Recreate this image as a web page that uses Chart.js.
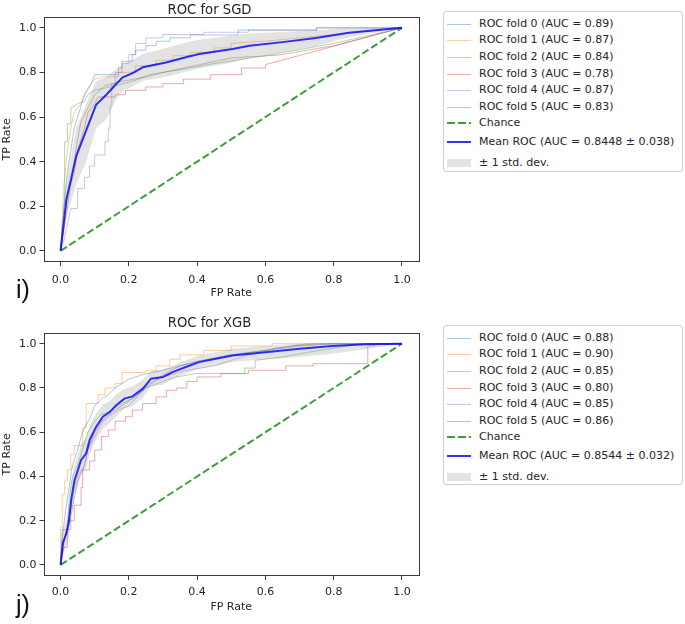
<!DOCTYPE html>
<html>
<head>
<meta charset="utf-8">
<script src="https://cdn.jsdelivr.net/npm/chart.js@4.4.1/dist/chart.umd.min.js"></script>
<style>
  html, body { margin: 0; padding: 0; background: #fff; }
  body { width: 685px; height: 624px; position: relative; overflow: hidden; font-family: 'DejaVu Sans', sans-serif; }
  .panel { position: absolute; left: 0; }
  .legend { position: absolute; left: 443px; width: 238px; border: 1px solid #cfcfcf; border-radius: 3px; background: #fff; font-size: 11px; color: #262626; }
  .legend .row { position: absolute; left: 0; height: 14px; line-height: 14px; white-space: nowrap; }
  .legend .swatch { position: absolute; left: 3px; width: 24px; }
  .legend .txt { position: absolute; left: 35px; top: 0; }
  .tag { position: absolute; left: 16px; font-family: 'Liberation Sans', sans-serif; font-size: 25px; line-height: 25px; color: #111; }
</style>
</head>
<body>
<div class="panel" style="top:0"><canvas id="sgdChart" width="430" height="300"></canvas></div>
<div class="panel" style="top:310px"><canvas id="xgbChart" width="430" height="314"></canvas></div>
<div class="legend" id="sgdLegend" style="top:11px;height:159px"></div>
<div class="legend" id="xgbLegend" style="top:325px;height:158px"></div>
<div class="tag" style="top:277px">i)</div>
<div class="tag" style="top:592px">j)</div>
<script>
// axis ticks
const xTicks = [0.0, 0.2, 0.4, 0.6, 0.8, 1.0];
const yTicks = [0.0, 0.2, 0.4, 0.6, 0.8, 1.0];

const foldColors = [
  'rgba(31,119,180,0.4)', 'rgba(255,127,14,0.4)', 'rgba(44,160,44,0.4)',
  'rgba(214,39,40,0.4)', 'rgba(148,103,189,0.4)', 'rgba(140,86,75,0.4)',
];
const chanceColor = '#3c9e3c';
const meanColor = 'rgba(0,0,255,0.8)';
const bandColor = 'rgba(128,128,128,0.22)';

const chanceFpr = [0, 1];
const chanceTpr = [0, 1];

// ---- SGD ----
const sgdFoldAuc = [0.89, 0.87, 0.84, 0.78, 0.87, 0.83];
const sgdMeanLabel = 'Mean ROC (AUC = 0.8448 \u00b1 0.038)';

const sgdFold0 = [[0,0],[0.01,0.2],[0.02,0.35],[0.03,0.45],[0.04,0.55],[0.05,0.6],[0.06,0.65],[0.07,0.7],[0.09,0.75],[0.1,0.79],[0.17,0.79],[0.17,0.82],[0.18,0.82],[0.18,0.85],[0.21,0.85],[0.21,0.88],[0.22,0.88],[0.22,0.9],[0.25,0.9],[0.25,0.92],[0.28,0.92],[0.28,0.94],[0.32,0.94],[0.32,0.955],[0.38,0.955],[0.38,0.968],[0.52,0.968],[0.52,0.99],[0.75,0.99],[0.75,1],[1,1]];
const sgdFold1 = [[0,0],[0.01,0.3],[0.02,0.45],[0.03,0.55],[0.04,0.62],[0.06,0.66],[0.07,0.7],[0.085,0.74],[0.1,0.77],[0.12,0.78],[0.17,0.78],[0.17,0.8],[0.22,0.8],[0.22,0.83],[0.28,0.83],[0.28,0.855],[0.33,0.855],[0.33,0.875],[0.38,0.875],[0.38,0.89],[0.45,0.89],[0.45,0.91],[0.5,0.91],[0.5,0.93],[0.6,0.94],[1,1]];
const sgdFold2 = [[0,0],[0.005,0.1],[0.012,0.23],[0.012,0.49],[0.02,0.49],[0.02,0.57],[0.03,0.57],[0.03,0.64],[0.05,0.66],[0.07,0.67],[0.08,0.7],[0.1,0.72],[0.16,0.74],[0.22,0.765],[0.26,0.79],[0.36,0.815],[0.45,0.84],[0.6,0.875],[0.8,0.93],[1,1]];
const sgdFold3 = [[0,0],[0.01,0.1],[0.02,0.25],[0.04,0.35],[0.05,0.45],[0.07,0.55],[0.08,0.62],[0.1,0.66],[0.11,0.69],[0.16,0.69],[0.16,0.7],[0.19,0.7],[0.19,0.72],[0.25,0.72],[0.25,0.735],[0.3,0.735],[0.3,0.75],[0.36,0.75],[0.36,0.77],[0.44,0.77],[0.44,0.79],[0.53,0.79],[0.53,0.82],[0.6,0.82],[0.6,0.835],[1,1]];
const sgdFold4 = [[0,0],[0.01,0.05],[0.02,0.12],[0.03,0.19],[0.05,0.19],[0.05,0.28],[0.07,0.28],[0.07,0.33],[0.085,0.33],[0.085,0.38],[0.1,0.38],[0.1,0.43],[0.13,0.43],[0.13,0.49],[0.14,0.49],[0.14,0.55],[0.145,0.55],[0.145,0.65],[0.15,0.65],[0.15,0.75],[0.16,0.75],[0.16,0.8],[0.18,0.8],[0.18,0.84],[0.2,0.84],[0.2,0.88],[0.22,0.88],[0.22,0.93],[0.25,0.93],[0.25,0.955],[0.3,0.955],[0.3,0.97],[0.42,0.97],[0.42,0.98],[0.55,0.98],[0.55,0.99],[0.75,0.99],[0.75,1],[1,1]];
const sgdFold5 = [[0,0],[0.01,0.1],[0.02,0.2],[0.03,0.3],[0.04,0.4],[0.05,0.5],[0.06,0.58],[0.08,0.64],[0.1,0.7],[0.13,0.74],[0.18,0.76],[0.25,0.78],[0.3,0.8],[0.38,0.826],[0.5,0.865],[0.64,0.878],[0.8,0.92],[1,1]];

const sgdMeanFpr = [0, 0.017, 0.046, 0.075, 0.104, 0.134, 0.163, 0.182, 0.211, 0.241, 0.309, 0.367, 0.406, 0.504, 0.553, 0.65, 0.748, 0.845, 1];
const sgdMeanTpr = [0, 0.23, 0.425, 0.54, 0.655, 0.70, 0.748, 0.778, 0.797, 0.823, 0.845, 0.868, 0.883, 0.905, 0.92, 0.936, 0.954, 0.978, 1];
const sgdUpper   = [0, 0.31, 0.55, 0.66, 0.76, 0.78, 0.815, 0.838, 0.857, 0.883, 0.91, 0.933, 0.948, 0.965, 0.975, 0.981, 0.989, 0.998, 1];
const sgdLower   = [0, 0.15, 0.30, 0.40, 0.55, 0.59, 0.68, 0.718, 0.737, 0.763, 0.78, 0.803, 0.818, 0.845, 0.865, 0.891, 0.919, 0.958, 1];

// ---- XGB ----
const xgbFoldAuc = [0.88, 0.90, 0.85, 0.80, 0.85, 0.86];
const xgbMeanLabel = 'Mean ROC (AUC = 0.8544 \u00b1 0.032)';

const xgbFold0 = [[0,0],[0.005,0.12],[0.015,0.25],[0.025,0.35],[0.035,0.45],[0.05,0.52],[0.06,0.58],[0.07,0.62],[0.085,0.66],[0.1,0.72],[0.12,0.75],[0.14,0.77],[0.16,0.8],[0.2,0.84],[0.24,0.86],[0.3,0.88],[0.35,0.9],[0.4,0.92],[0.5,0.95],[0.6,0.97],[0.7,0.99],[0.8,1],[1,1]];
const xgbFold1 = [[0,0],[0,0.17],[0.005,0.17],[0.005,0.32],[0.012,0.32],[0.012,0.38],[0.02,0.38],[0.02,0.43],[0.03,0.43],[0.03,0.5],[0.04,0.5],[0.04,0.54],[0.065,0.54],[0.065,0.62],[0.075,0.62],[0.075,0.73],[0.11,0.73],[0.11,0.77],[0.13,0.77],[0.13,0.8],[0.16,0.8],[0.16,0.82],[0.18,0.82],[0.18,0.87],[0.25,0.87],[0.25,0.88],[0.28,0.88],[0.28,0.9],[0.32,0.9],[0.32,0.93],[0.35,0.93],[0.35,0.95],[0.42,0.95],[0.42,0.97],[0.5,0.97],[0.5,0.99],[0.62,0.99],[0.62,1],[1,1]];
const xgbFold2 = [[0,0],[0.005,0.1],[0.02,0.15],[0.025,0.3],[0.035,0.4],[0.05,0.45],[0.06,0.5],[0.07,0.55],[0.08,0.6],[0.1,0.65],[0.12,0.68],[0.15,0.7],[0.18,0.73],[0.22,0.76],[0.25,0.8],[0.3,0.83],[0.34,0.85],[0.4,0.866],[0.54,0.866],[0.54,0.89],[0.57,0.89],[0.57,0.925],[0.65,0.94],[0.72,0.96],[0.8,0.98],[0.88,1],[1,1]];
const xgbFold3 = [[0,0],[0.01,0.08],[0.02,0.08],[0.02,0.2],[0.04,0.2],[0.04,0.27],[0.06,0.27],[0.06,0.35],[0.065,0.35],[0.065,0.43],[0.085,0.43],[0.085,0.47],[0.1,0.47],[0.1,0.52],[0.12,0.52],[0.12,0.58],[0.14,0.58],[0.14,0.61],[0.16,0.61],[0.16,0.65],[0.19,0.65],[0.19,0.67],[0.21,0.67],[0.21,0.7],[0.24,0.7],[0.24,0.73],[0.28,0.73],[0.28,0.76],[0.31,0.76],[0.31,0.79],[0.34,0.79],[0.34,0.8],[0.37,0.8],[0.37,0.83],[0.4,0.83],[0.4,0.85],[0.47,0.85],[0.47,0.865],[0.55,0.865],[0.55,0.88],[0.66,0.88],[0.66,0.9],[0.74,0.9],[0.74,0.91],[0.9,0.91],[0.9,0.99],[0.92,0.99],[0.92,1],[1,1]];
const xgbFold4 = [[0,0],[0.01,0.1],[0.02,0.18],[0.03,0.25],[0.04,0.35],[0.05,0.4],[0.07,0.45],[0.08,0.52],[0.1,0.58],[0.12,0.64],[0.14,0.67],[0.17,0.7],[0.2,0.72],[0.23,0.77],[0.26,0.82],[0.3,0.85],[0.37,0.88],[0.45,0.9],[0.55,0.95],[0.63,0.98],[0.72,1],[1,1]];
const xgbFold5 = [[0,0],[0.005,0.16],[0.03,0.16],[0.03,0.22],[0.04,0.3],[0.05,0.38],[0.07,0.45],[0.08,0.52],[0.1,0.6],[0.12,0.65],[0.15,0.69],[0.2,0.74],[0.25,0.8],[0.3,0.86],[0.35,0.9],[0.4,0.92],[0.5,0.95],[0.6,0.97],[0.68,0.99],[0.75,1],[1,1]];

const xgbMeanFpr = [0, 0.007, 0.017, 0.024, 0.031, 0.041, 0.051, 0.06, 0.075, 0.085, 0.104, 0.124, 0.143, 0.163, 0.187, 0.211, 0.241, 0.265, 0.3, 0.328, 0.367, 0.406, 0.455, 0.504, 0.6, 0.7, 0.796, 0.894, 1];
const xgbMeanTpr = [0, 0.1, 0.144, 0.19, 0.294, 0.384, 0.43, 0.474, 0.505, 0.564, 0.624, 0.67, 0.69, 0.722, 0.752, 0.762, 0.797, 0.842, 0.85, 0.872, 0.895, 0.917, 0.932, 0.947, 0.962, 0.977, 0.99, 0.998, 1];
const xgbUpper   = [0, 0.15, 0.204, 0.26, 0.364, 0.454, 0.5, 0.544, 0.575, 0.629, 0.684, 0.725, 0.74, 0.772, 0.797, 0.807, 0.837, 0.877, 0.885, 0.902, 0.925, 0.947, 0.962, 0.977, 0.99, 1, 1, 1, 1];
const xgbLower   = [0, 0.05, 0.084, 0.12, 0.224, 0.314, 0.36, 0.404, 0.435, 0.499, 0.564, 0.615, 0.64, 0.672, 0.707, 0.717, 0.757, 0.807, 0.815, 0.842, 0.865, 0.887, 0.902, 0.917, 0.93, 0.94, 0.955, 0.975, 1];

Chart.defaults.font.family = 'DejaVu Sans';
Chart.defaults.color = '#262626';

const framePlugin = {
  id: 'frame',
  afterDraw(chart) {
    const { ctx, chartArea: a } = chart;
    ctx.save();
    ctx.strokeStyle = '#3a3a3a';
    ctx.lineWidth = 1;
    ctx.strokeRect(Math.round(a.left) + 0.5, Math.round(a.top) + 0.5,
      Math.round(a.right - a.left) - 1, Math.round(a.bottom - a.top) - 1);
    ctx.restore();
  },
};

function xy(xs, ys) {
  return xs.map((x, i) => ({ x, y: ys[i] }));
}
function pairs(p) {
  return p.map(([x, y]) => ({ x, y }));
}

function makeRoc(id, cfg) {
  const datasets = [
    { data: xy(cfg.meanFpr, cfg.meanTpr), borderColor: meanColor, borderWidth: 2, fill: false },
    { data: xy(cfg.meanFpr, cfg.upper), borderColor: 'rgba(0,0,0,0)', borderWidth: 1, backgroundColor: bandColor, fill: '+1' },
    { data: xy(cfg.meanFpr, cfg.lower), borderColor: 'rgba(0,0,0,0)', borderWidth: 1, fill: false },
    { data: xy(chanceFpr, chanceTpr), borderColor: chanceColor, borderWidth: 2, borderDash: [7.4, 3.2], fill: false },
  ];
  cfg.folds.forEach((f, i) => {
    datasets.push({ data: pairs(f), borderColor: foldColors[i], borderWidth: 1, fill: false });
  });

  const tickFont = { size: 11 };
  return new Chart(document.getElementById(id), {
    type: 'line',
    data: { datasets },
    plugins: [framePlugin],
    options: {
      responsive: false,
      animation: false,
      devicePixelRatio: 1,
      layout: { padding: { top: cfg.padTop, left: 0, right: 11, bottom: 0 } },
      elements: { point: { radius: 0, hoverRadius: 0 }, line: { tension: 0 } },
      plugins: {
        legend: { display: false },
        tooltip: { enabled: false },
        title: {
          display: true, text: cfg.title, color: '#262626',
          font: { size: 13.2, weight: 'normal', lineHeight: 1 },
          padding: { top: 0, bottom: cfg.titleGap },
        },
      },
      scales: {
        x: {
          type: 'linear', min: -0.05, max: 1.05,
          afterBuildTicks: (s) => { s.ticks = xTicks.map((v) => ({ value: v })); },
          afterFit: (s) => { s.height = cfg.xAxisH; },
          ticks: { padding: cfg.xTickPad, font: tickFont, color: '#262626', autoSkip: false, maxRotation: 0, callback: (v) => v.toFixed(1) },
          grid: { drawOnChartArea: false, drawTicks: true, tickLength: 4, color: '#3a3a3a' },
          border: { display: false },
          title: { display: true, text: 'FP Rate', font: { size: 11 }, color: '#262626', padding: { top: 0, bottom: cfg.xTitlePad } },
        },
        y: {
          type: 'linear', min: -0.05, max: 1.05,
          afterBuildTicks: (s) => { s.ticks = yTicks.map((v) => ({ value: v })); },
          afterFit: (s) => { s.width = 43.5; },
          ticks: { padding: 3, font: tickFont, color: '#262626', autoSkip: false, callback: (v) => v.toFixed(1) },
          grid: { drawOnChartArea: false, drawTicks: true, tickLength: 4, color: '#3a3a3a' },
          border: { display: false },
          title: { display: true, text: 'TP Rate', font: { size: 11 }, color: '#262626', padding: { top: 1, bottom: 0 } },
        },
      },
    },
  });
}

const rowCenters = [11.5, 28.3, 45, 61.5, 78.3, 95, 111, 130, 150.5];

function buildLegend(id, aucs, meanLabel) {
  const el = document.getElementById(id);
  const rows = [];
  aucs.forEach((auc, i) => {
    rows.push({ text: `ROC fold ${i} (AUC = ${auc.toFixed(2)})`, swatch: `top:7px;height:1px;background:${foldColors[i]}` });
  });
  rows.push({ text: 'Chance', swatch: `top:6px;height:2px;background:repeating-linear-gradient(to right, ${chanceColor} 0 7.5px, transparent 7.5px 11px)` });
  rows.push({ text: meanLabel, swatch: `top:6px;height:2px;background:${meanColor}` });
  rows.push({ text: '\u00b1 1 std. dev.', swatch: `top:3px;height:8px;background:${bandColor}` });
  el.innerHTML = rows.map((r, i) => `
    <div class="row" style="top:${Math.round(rowCenters[i] - 7)}px">
      <div class="swatch" style="${r.swatch}"></div>
      <span class="txt">${r.text}</span>
    </div>
  `).join('');
}

makeRoc('sgdChart', {
  title: 'ROC for SGD',
  folds: [sgdFold0, sgdFold1, sgdFold2, sgdFold3, sgdFold4, sgdFold5],
  meanFpr: sgdMeanFpr, meanTpr: sgdMeanTpr, upper: sgdUpper, lower: sgdLower,
  padTop: 3.5, titleGap: 0, xAxisH: 38, xTickPad: 7.9, xTitlePad: 0.4,
});
makeRoc('xgbChart', {
  title: 'ROC for XGB',
  folds: [xgbFold0, xgbFold1, xgbFold2, xgbFold3, xgbFold4, xgbFold5],
  meanFpr: xgbMeanFpr, meanTpr: xgbMeanTpr, upper: xgbUpper, lower: xgbLower,
  padTop: 6.8, titleGap: 2.7, xAxisH: 48, xTickPad: 5.2, xTitlePad: 10.4,
});

buildLegend('sgdLegend', sgdFoldAuc, sgdMeanLabel);
buildLegend('xgbLegend', xgbFoldAuc, xgbMeanLabel);
</script>
</body>
</html>
